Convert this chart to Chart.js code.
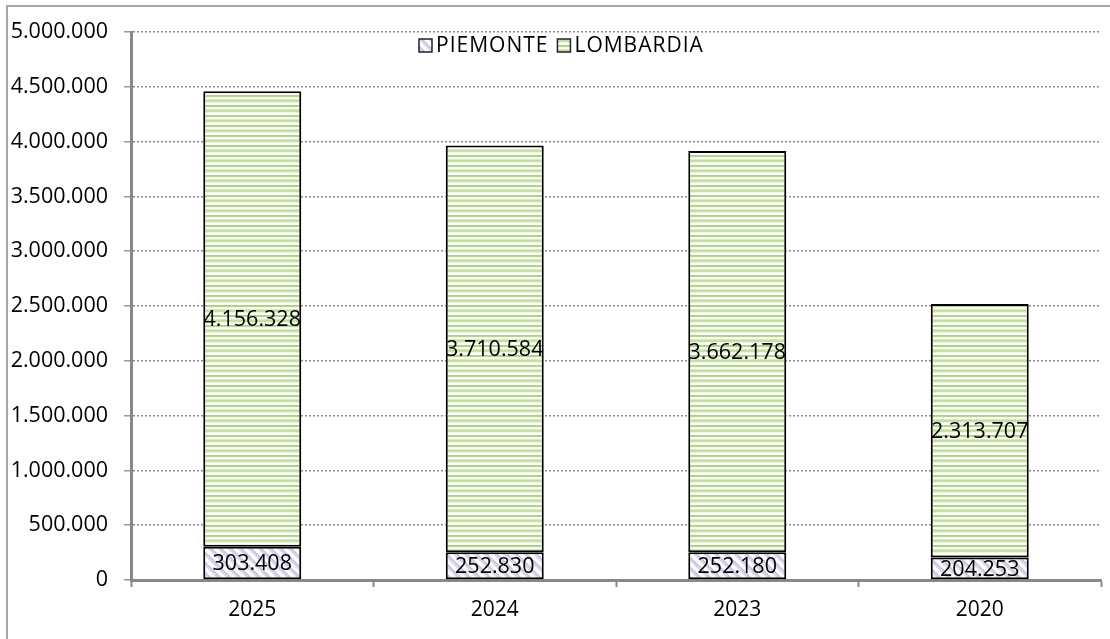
<!DOCTYPE html>
<html>
<head>
<meta charset="utf-8">
<script src="https://cdn.jsdelivr.net/npm/chart.js@4/dist/chart.umd.min.js"></script>
<style>
  html, body { margin: 0; padding: 0; background: #fff; overflow: hidden; }
  #frame { position: absolute; left: 6px; top: 5px; width: 1200px; height: 800px; border: 2px solid #a6a6a6; }
  #wrap { position: absolute; left: 0; top: 0; width: 1110px; height: 639px; }
</style>
</head>
<body>
<div id="frame"></div>
<div id="wrap"><canvas id="myChart1" width="1110" height="639"></canvas></div>
<script>
const years = ["2025", "2024", "2023", "2020"];
const piemonte = [303408, 252830, 252180, 204253];
const lombardia = [4156328, 3710584, 3662178, 2313707];
const seriesNames = ["PIEMONTE", "LOMBARDIA"];

const FONT = "'Open Sans', 'DejaVu Sans', sans-serif";

function fmt(v) {
    return String(v).replace(/\B(?=(\d{3})+(?!\d))/g, ".");
}

const ctx = document.getElementById("myChart1").getContext("2d");

// horizontal green stripes
function stripesGreen() {
    const rows = ["#c2dea0", "#c7e2a8", "#eef8d8", "#ffffff", "#ffffff", "#acce8e", "#b4d498", "#f3fbe0", "#fafff0", "#dae8c8"];
    const c = document.createElement("canvas");
    c.width = 4;
    c.height = rows.length;
    const g = c.getContext("2d");
    rows.forEach((col, i) => {
        g.fillStyle = col;
        g.fillRect(0, i, 4, 1);
    });
    return ctx.createPattern(c, "repeat");
}

// diagonal lavender hatch
function hatchLavender() {
    const n = 10;
    const c = document.createElement("canvas");
    c.width = n;
    c.height = n;
    const g = c.getContext("2d");
    for (let y = 0; y < n; y++) {
        for (let x = 0; x < n; x++) {
            const d = ((x - y) % n + n) % n;
            let col = "#fdfcff";
            if (d <= 2) col = "#d8d2ea";
            else if (d === 3) col = "#bfb8d2";
            else if (d === 4 || d === 9) col = "#ece9f4";
            g.fillStyle = col;
            g.fillRect(x, y, 1, 1);
        }
    }
    return ctx.createPattern(c, "repeat");
}

const fills = [hatchLavender(), stripesGreen()];

// value text in the middle of each segment
const segmentLabels = {
    id: "segmentLabels",
    afterDatasetsDraw(chart) {
        const c = chart.ctx;
        c.save();
        c.font = "21.5px " + FONT;
        c.fillStyle = "#000";
        c.textAlign = "center";
        c.textBaseline = "middle";
        chart.data.datasets.forEach((ds, di) => {
            chart.getDatasetMeta(di).data.forEach((bar, i) => {
                c.fillText(fmt(ds.data[i]), bar.x, (bar.y + bar.base) / 2 + 1);
            });
        });
        c.restore();
    }
};

// legend row inside the plot, near the top
const topLegend = {
    id: "topLegend",
    afterDraw(chart) {
        const c = chart.ctx;
        const area = chart.chartArea;
        c.save();
        c.font = "21px " + FONT;
        c.letterSpacing = "1px";
        c.textBaseline = "middle";
        let x = area.left + 288;
        const y = area.top + 14;
        chart.data.datasets.forEach((ds, di) => {
            c.fillStyle = fills[di];
            c.fillRect(x, y - 7, 13, 13);
            c.strokeStyle = "#222";
            c.lineWidth = 1.5;
            c.strokeRect(x, y - 7, 13, 13);
            c.fillStyle = "#000";
            c.fillText(ds.label, x + 17, y);
            x += 17 + c.measureText(ds.label).width + 9;
        });
        c.restore();
    }
};

new Chart(ctx, {
    type: "bar",
    data: {
        labels: years,
        datasets: [
            {
                label: seriesNames[0],
                data: piemonte,
                backgroundColor: fills[0],
                borderColor: "#000",
                borderWidth: 2,
                borderSkipped: false
            },
            {
                label: seriesNames[1],
                data: lombardia,
                backgroundColor: fills[1],
                borderColor: "#000",
                borderWidth: 2,
                borderSkipped: false
            }
        ]
    },
    options: {
        responsive: false,
        animation: false,
        devicePixelRatio: 1,
        layout: { padding: { top: 32, left: 0, right: 9, bottom: 0 } },
        plugins: {
            legend: { display: false },
            tooltip: { enabled: false }
        },
        datasets: {
            bar: { categoryPercentage: 1, barPercentage: 0.404 }
        },
        scales: {
            x: {
                stacked: true,
                afterFit(scale) { scale.height = 59; },
                grid: {
                    offset: true,
                    drawOnChartArea: false,
                    tickLength: 7,
                    tickColor: "#888",
                    tickWidth: 2
                },
                border: { color: "#888", width: 3 },
                ticks: { color: "#000", font: { family: FONT, size: 21 }, padding: 10 }
            },
            y: {
                stacked: true,
                min: 0,
                max: 5000000,
                afterFit(scale) { scale.width = 131; },
                grid: {
                    color: "#8c8c8c",
                    lineWidth: 1.5,
                    tickLength: 7,
                    tickColor: "#999",
                    tickWidth: 1.5,
                    tickBorderDash: []
                },
                border: { color: "#888", width: 3, dash: [2, 2] },
                ticks: {
                    stepSize: 500000,
                    color: "#000",
                    padding: 16,
                    font: { family: FONT, size: 21.5 },
                    callback: (v) => fmt(v)
                }
            }
        }
    },
    plugins: [segmentLabels, topLegend]
});
</script>
</body>
</html>
